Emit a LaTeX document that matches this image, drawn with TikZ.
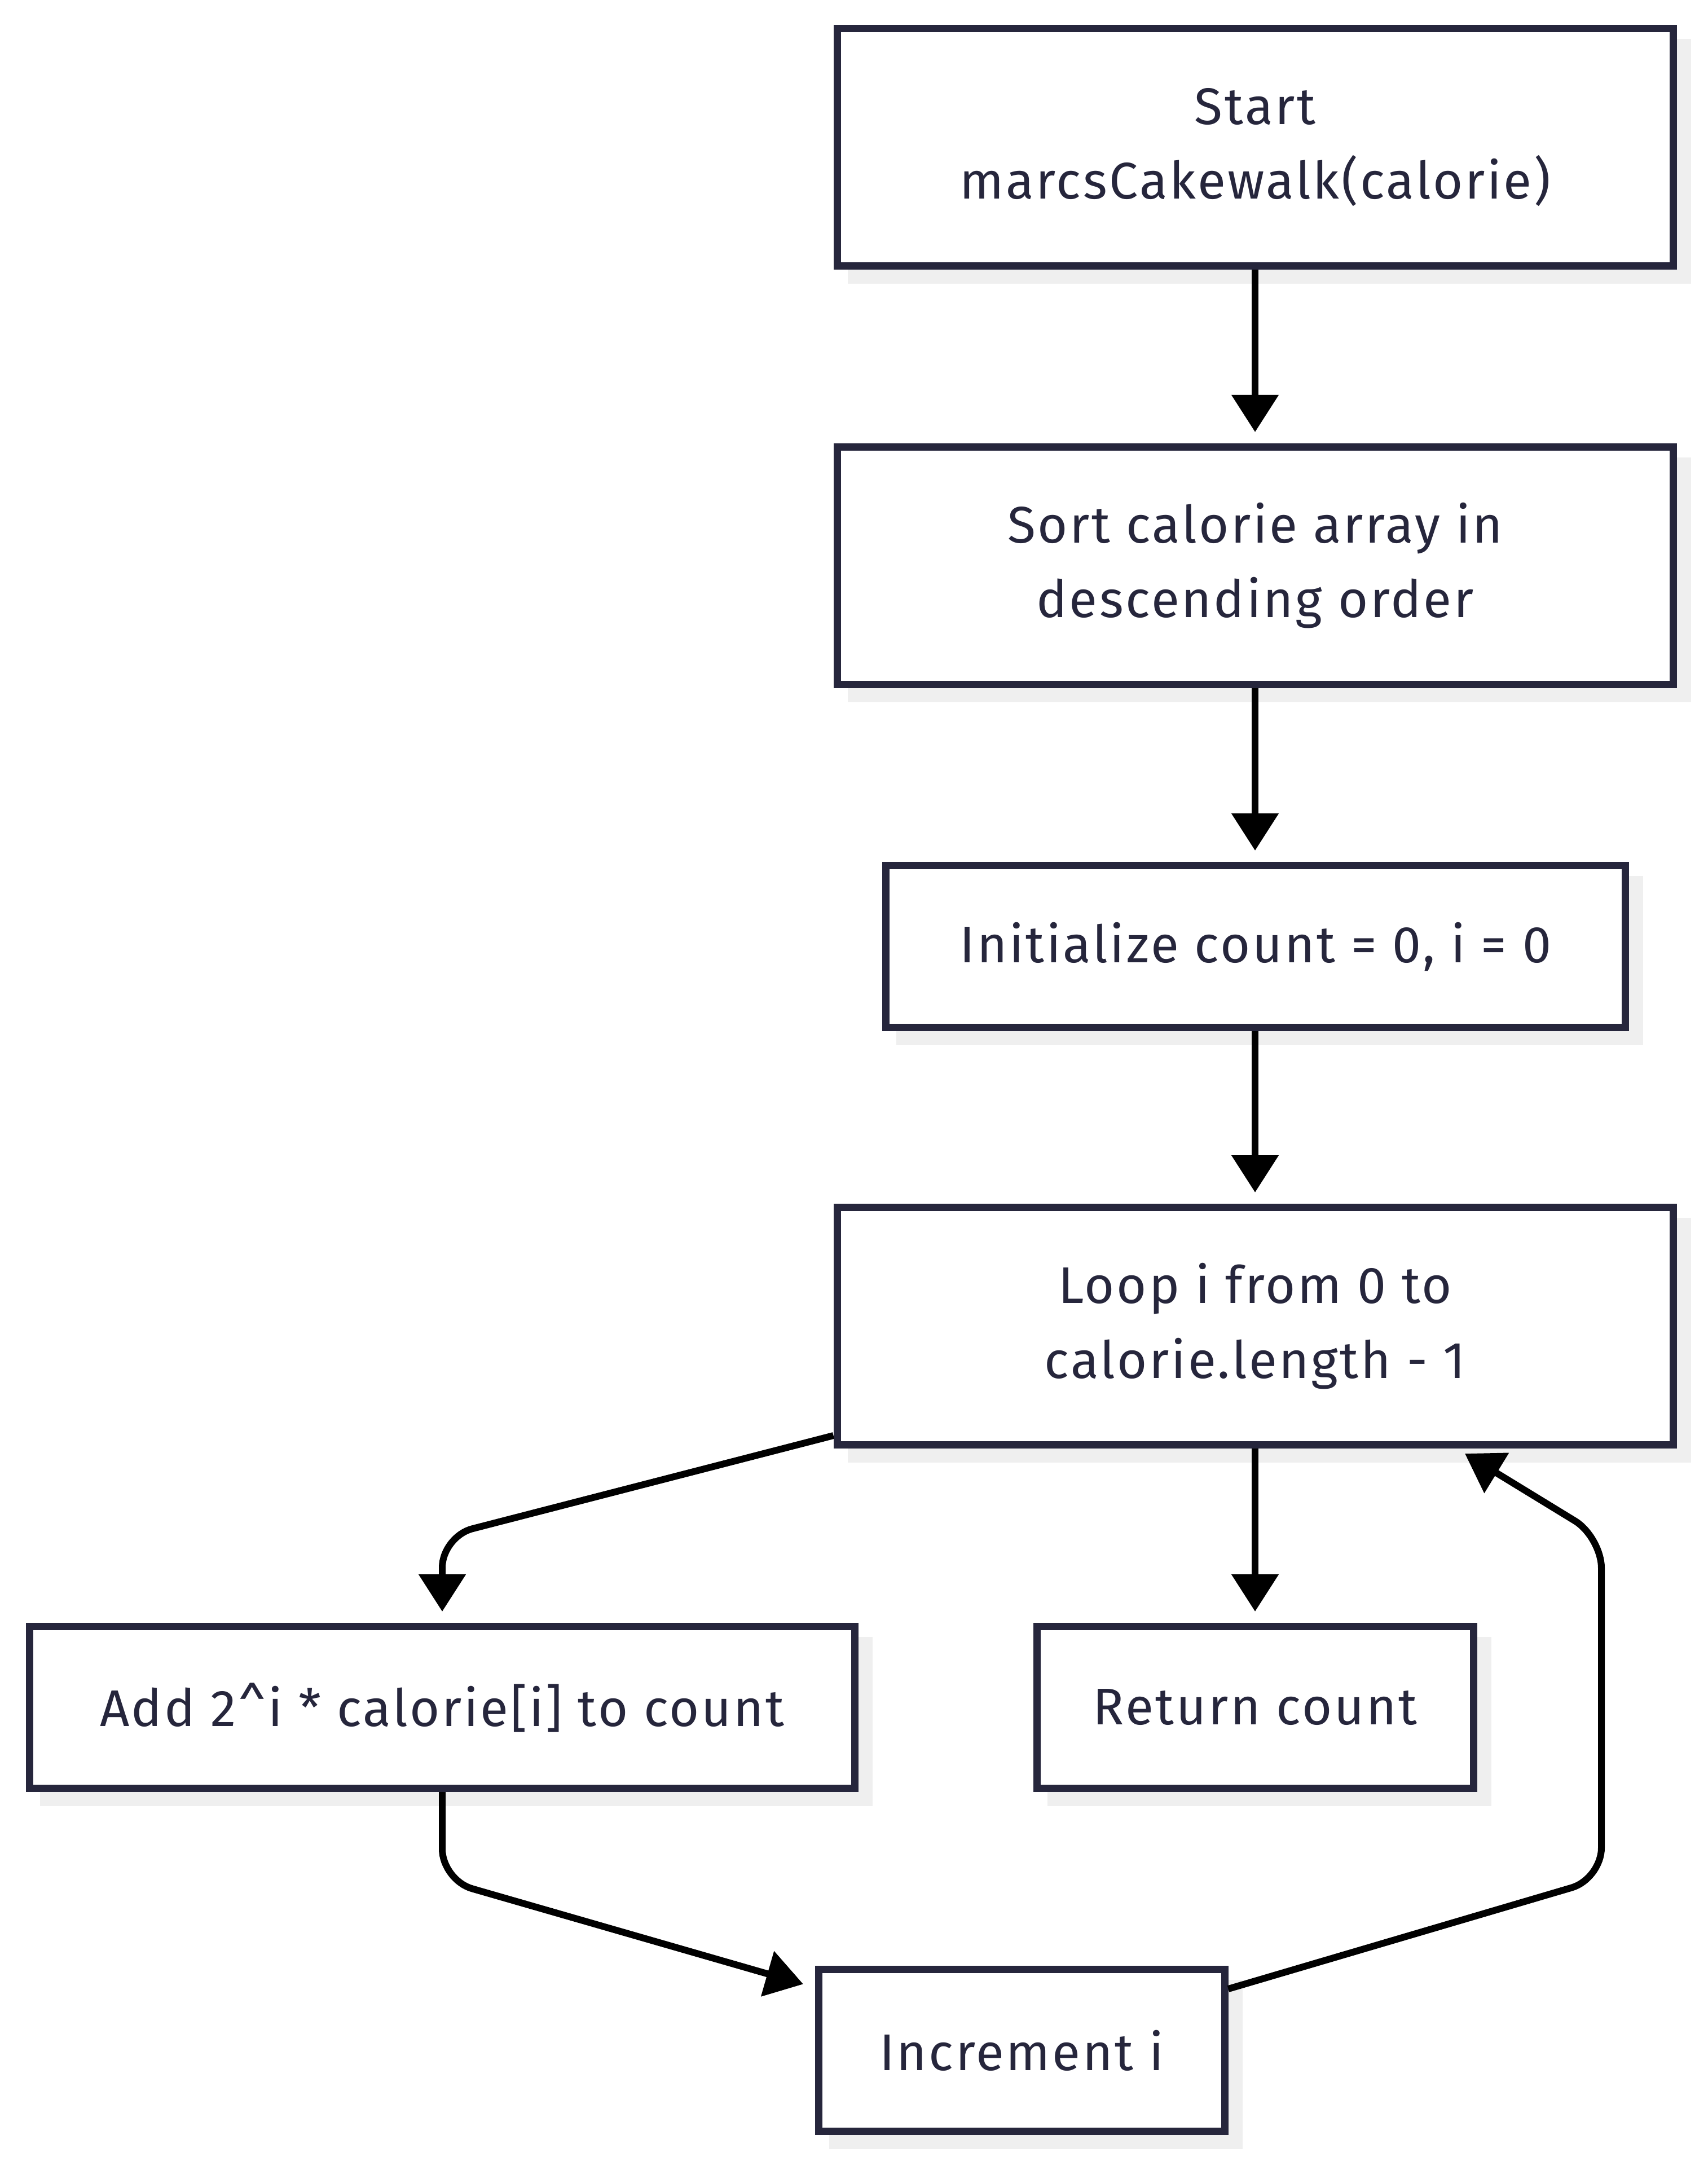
\documentclass[tikz,border=0pt]{standalone}
\usepackage{fontspec}
\setmainfont{Fira Sans}[LetterSpace=4]
\usetikzlibrary{arrows.meta,shadows,calc}
\definecolor{nodeborder}{HTML}{26263C}
\definecolor{nodetext}{HTML}{26263C}
\definecolor{shadowgray}{HTML}{EFEFEF}
\tikzset{
  box/.style={draw=nodeborder, line width=0.13cm, fill=white, text=nodetext,
    align=center, inner sep=0pt, font=\fontsize{26}{37.6}\selectfont,
    drop shadow={shadow xshift=0.25cm, shadow yshift=-0.25cm, fill=shadowgray, draw=shadowgray, opacity=1}},
  widebox/.style={box, minimum width=14.82cm, minimum height=4.21cm},
  conn/.style={line width=0.12cm, draw=black, rounded corners=0.55cm,
    -{Triangle[length=0.66cm,width=0.81cm]}},
}
\begin{document}
\begin{tikzpicture}
\useasboundingbox (0,0) rectangle (30.27,-38.40);
\node[widebox] (start) at (22.25,-2.61) {Start\\marcsCakewalk(calorie)};
\node[widebox] (sort) at (22.25,-10.03) {Sort calorie array in\\descending order};
\node[box, minimum width=13.11cm, minimum height=2.87cm] (init) at (22.26,-16.78) {Initialize count = 0, i = 0};
\node[widebox] (loop) at (22.25,-23.51) {Loop i from 0 to\\calorie.length - 1};
\node[box, minimum width=14.63cm, minimum height=2.87cm] (add) at (7.84,-30.27) {Add 2\^{}i * calorie[i] to count};
\node[box, minimum width=7.74cm, minimum height=2.87cm] (ret) at (22.25,-30.27) {Return count};
\node[box, minimum width=7.20cm, minimum height=2.87cm] (incr) at (18.11,-36.35) {Increment i};

\coordinate (c1) at (7.84,-27.24);
\coordinate (c2) at (7.84,-33.33);
\coordinate (c3) at (28.39,-33.31);
\coordinate (c4) at (28.39,-27.25);

\draw[conn, shorten >=0.2cm] (start.south) -- (sort.north);
\draw[conn, shorten >=0.2cm] (sort.south) -- (sort.south |- init.north);
\draw[conn, shorten >=0.2cm] (init.south -| loop.north) -- (loop.north);
\draw[conn, shorten >=0.2cm] (loop.south) -- (ret.north);
\draw[conn, shorten >=0.2cm] ($(loop.south west)+(0,0.23)$) -- (add.north |- c1) -- (add.north);
\draw[conn] (add.south) -- (add.south |- c2) -- ($(incr.north west)+(-0.205,-0.325)$);
\draw[conn] ($(incr.north east)+(0,-0.41)$) -- (c3) -- (c4) -- ($(loop.south)+(3.72,-0.09)$);
\end{tikzpicture}
\end{document}
